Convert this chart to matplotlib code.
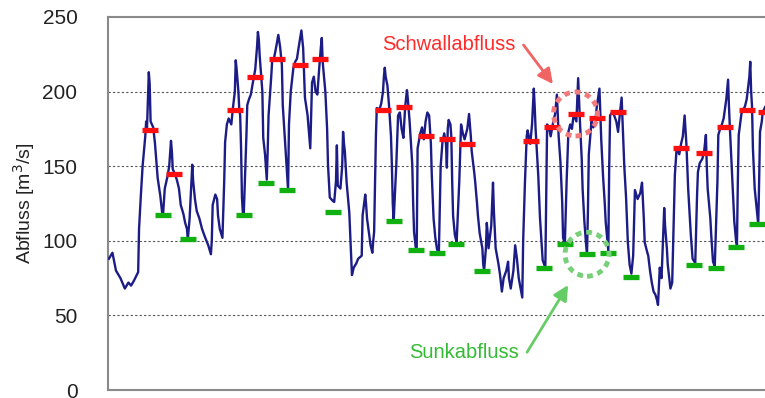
import matplotlib
matplotlib.use("Agg")
import matplotlib.pyplot as plt
from matplotlib import transforms
from matplotlib.patches import Circle

plt.rcParams['font.family'] = ['Liberation Sans', 'DejaVu Sans']

# discharge record, time in hours from start of the month (one row per day)
hours = [1, 5, 9, 14, 19, 23, 26, 29, 34,
         35, 37, 39, 42, 43, 44, 45, 46, 47, 48, 51, 53, 55, 56, 59, 61, 62,
         64, 67, 69, 71, 72, 73, 76, 78, 80, 82, 85, 87, 89, 90,
         92, 95, 96, 98, 100, 103, 106, 109, 113, 116,
         117, 118, 121, 123, 124, 126, 129,
         131, 132, 134, 136, 139, 141, 143, 144, 145, 147, 148, 149, 150, 151, 152, 153,
         156, 157, 159, 161, 163, 166, 168, 169, 170, 171, 174, 175, 177, 178, 179,
         180, 181, 184, 185, 187, 189, 192, 194, 196, 197, 200, 202, 203,
         204, 206, 209, 211, 213, 215, 218, 220, 222, 224, 225, 228,
         229, 230, 232, 234, 236, 238, 240, 241, 242, 245, 247, 248, 250, 253, 255,
         257, 258, 259, 262, 264, 265, 266, 267, 269, 272, 274, 275, 277, 280, 282, 284, 286,
         287, 290, 291, 292, 294, 296, 298, 299, 300,
         301, 302, 303, 306, 308, 310, 311, 312, 313, 315, 317, 319, 320, 321, 322,
         325, 327, 329, 331, 333, 335, 337, 338, 340, 343, 344, 345, 347, 348,
         349, 352, 354, 356, 358, 360, 362, 364, 365, 367, 369, 371, 373,
         375, 377, 379, 381, 382, 383, 384, 386, 387, 388, 389, 391, 393,
         396, 398, 400, 402, 405, 407, 409, 410, 413, 414, 416, 417, 419, 422, 423, 424,
         426, 427, 428, 429, 432, 434, 435, 437, 440, 442, 444, 446, 449, 451, 452, 454,
         457, 459, 461, 463, 466, 467,
         468, 470, 472, 473, 476, 478, 480, 481, 482, 485, 487, 488, 490, 493,
         494, 495, 497, 499, 502, 504, 506, 507, 508, 510, 512, 513, 515,
         517, 519, 521, 523, 525, 528, 530, 531, 532, 534, 535, 537, 539, 540,
         541, 542, 545, 547, 549, 551, 554, 555, 556, 558, 560, 561, 564,
         565, 566, 568, 570, 573, 575, 577, 579, 581, 582, 584, 586, 588, 590,
         592, 594, 596, 597, 600, 602, 604, 605, 608, 609, 611, 613, 615, 617, 619, 620,
         621, 622, 623, 624, 627, 628, 630, 631, 634, 636,
         638, 639, 641, 644, 646, 648, 650, 652, 654, 656, 657, 659, 662,
         664, 665, 667, 670, 672, 674, 675, 676, 679, 680, 682, 684,
         687, 688, 690, 692, 694, 697, 699, 700, 701, 703, 706, 708, 709,
         710, 711, 714, 716, 718, 720, 723, 724, 725, 726, 727, 729, 732, 733,
         734, 735, 737, 738, 741, 744]
flow = [88, 92, 80, 75, 68, 72, 70, 73, 79,
        108, 130, 150, 170, 180, 176, 195, 213, 205, 180, 176, 165, 150, 142, 130, 119, 117,
        135, 143, 150, 167, 160, 148, 144, 140, 135, 124, 118, 112, 108, 101,
        115, 151, 140, 128, 120, 115, 108, 103, 97, 91,
        100, 124, 131, 128, 117, 108, 102,
        140, 166, 178, 182, 178, 190, 200, 221, 215, 200, 188, 184, 162, 129, 119, 117,
        170, 191, 195, 198, 205, 215, 230, 240, 235, 224, 200, 169, 158, 150, 141,
        160, 184, 210, 220, 222, 228, 238, 230, 218, 191, 162, 142, 134,
        178, 200, 216, 220, 222, 230, 241, 229, 196, 188, 184, 162,
        185, 206, 210, 200, 198, 215, 230, 236, 220, 200, 175, 151, 129, 127, 126,
        140, 164, 137, 135, 150, 173, 165, 160, 139, 119, 92, 77, 82, 85, 88, 89, 90,
        117, 131, 124, 115, 106, 97, 92, 100, 106,
        139, 170, 189, 188, 192, 200, 210, 216, 210, 204, 189, 170, 151, 125, 113,
        151, 184, 186, 175, 169, 190, 201, 195, 180, 151, 125, 106, 95, 94,
        162, 172, 176, 168, 180, 186, 184, 165, 144, 115, 102, 94, 93,
        150, 166, 172, 165, 149, 175, 181, 178, 170, 140, 117, 104, 99,
        140, 178, 172, 168, 175, 185, 170, 160, 145, 139, 125, 117, 105, 95, 84, 80,
        95, 112, 105, 95, 110, 139, 120, 95, 85, 77, 66, 75, 80, 86, 75, 68,
        80, 97, 88, 75, 65, 62,
        100, 139, 170, 174, 165, 178, 202, 190, 175, 144, 115, 106, 87, 82,
        130, 178, 176, 170, 180, 185, 198, 185, 170, 153, 126, 102, 98,
        140, 173, 178, 175, 185, 180, 209, 195, 180, 155, 135, 113, 97, 91,
        120, 158, 180, 176, 178, 190, 202, 185, 168, 144, 125, 113, 93,
        150, 184, 186, 185, 180, 173, 185, 196, 165, 150, 129, 99, 84, 78,
        90, 134, 130, 128, 132, 139, 115, 99, 92, 90, 80, 72, 66, 64, 60, 57,
        70, 82, 78, 75, 122, 110, 95, 84, 68, 72,
        120, 144, 162, 158, 165, 170, 184, 165, 135, 115, 104, 88, 85,
        130, 146, 152, 155, 160, 171, 150, 135, 115, 104, 86, 83,
        140, 171, 175, 178, 182, 195, 208, 190, 176, 151, 113, 100, 97,
        140, 171, 185, 188, 190, 195, 210, 220, 200, 190, 162, 135, 117, 111,
        140, 173, 180, 186, 190, 185]

# daily peak flow (Schwall)
peak_hours = [47, 74, 143, 166, 191, 216, 239, 310, 334, 358, 382, 405,
              477, 501, 527, 551, 575, 646, 672, 696, 720, 742]
peak_flow = [174, 145, 188, 210, 222, 218, 222, 188, 190, 170, 168, 165,
             167, 176, 185, 182, 186, 162, 159, 176, 188, 186]

# daily base flow (Sunk)
base_hours = [62, 90, 153, 178, 202, 254, 322, 347, 371, 392, 422,
              491, 515, 540, 564, 589, 661, 685, 708, 732]
base_flow = [117, 101, 117, 139, 134, 119, 113, 94, 92, 98, 80,
             82, 98, 91, 92, 76, 84, 82, 96, 111]

yticks = [0, 50, 100, 150, 200, 250]

fig = plt.figure(figsize=(7.65, 3.98), dpi=100)
ax = fig.add_axes([108 / 765, 8 / 398, 660 / 765, 373 / 398])

ax.plot(hours, flow, color='#1c1c86', lw=1.7, zorder=3)
ax.plot(peak_hours, peak_flow, ls='none', marker='_', ms=11, mew=3.8,
        color='#ff1010', zorder=4)
ax.plot(base_hours, base_flow, ls='none', marker='_', ms=11, mew=3.8,
        color='#10b010', zorder=4)

ax.set_xlim(0, 744)
ax.set_ylim(0, 250)
ax.set_xticks([])
ax.set_yticks(yticks)
ax.tick_params(axis='y', length=0, pad=22, labelsize=15, labelcolor='#222222')
for y in yticks[1:-1]:
    ax.axhline(y, color='#555555', lw=0.8, ls=(0, (2, 2)), zorder=1)
for side in ['left', 'top', 'bottom']:
    ax.spines[side].set_color('#8a8a8a')
    ax.spines[side].set_linewidth(1.5)
ax.spines['right'].set_visible(False)
ax.set_ylabel('Abfluss [m$^3$/s]', fontsize=14, color='#222222', labelpad=4)

# highlight one peak and one trough
hi = (peak_hours[14], peak_flow[14])
lo = (base_hours[13], base_flow[13])
for (cx, cy), col in [(hi, '#f27a7a'), (lo, '#77d077')]:
    tr = fig.dpi_scale_trans + transforms.ScaledTranslation(cx, cy, ax.transData)
    ax.add_patch(Circle((0, 0), 0.22, transform=tr, fill=False, ec=col,
                        lw=3.5, ls=(0, (1.2, 1.0)), zorder=5))

ax.annotate('', xy=hi, xytext=(-52, 69), textcoords='offset pixels',
            arrowprops=dict(arrowstyle='-|>,head_length=0.9,head_width=0.45',
                            color='#f06464', lw=2, shrinkA=0, shrinkB=27),
            zorder=6)
ax.annotate('Schwallabfluss', xy=hi, xytext=(-60, 69), textcoords='offset pixels',
            ha='right', va='center', fontsize=14.5, color='#ff2a2a')

ax.annotate('', xy=lo, xytext=(-60, -98), textcoords='offset pixels',
            arrowprops=dict(arrowstyle='-|>,head_length=0.9,head_width=0.45',
                            color='#66cc66', lw=2, shrinkA=0, shrinkB=26),
            zorder=6)
ax.annotate('Sunkabfluss', xy=lo, xytext=(-68, -98), textcoords='offset pixels',
            ha='right', va='center', fontsize=14.5, color='#33bb33')

fig.savefig('out.png', dpi=100)
